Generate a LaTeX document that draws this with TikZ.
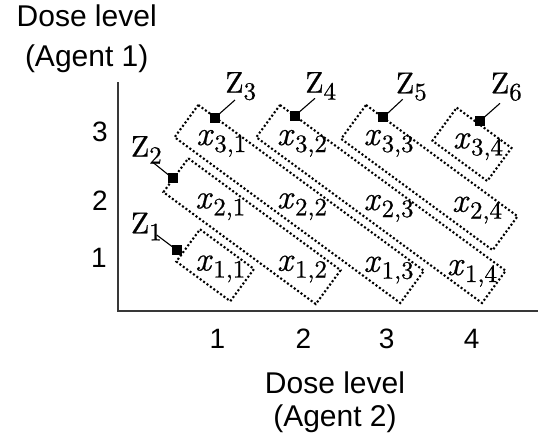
\documentclass[tikz,border=0pt]{standalone}
\usepackage{fontspec}
\newfontfamily\arial{Liberation Sans}
\newfontfamily\lmten{lmroman10-regular.otf}[ItalicFont=lmroman10-italic.otf, FakeBold=0.6]
\newcommand\zbox[4]{\draw[zb] (#1,#2) -- ++({0.806*#3},{0.592*#3}) -- ++({-0.592*#4},{0.806*#4}) -- ++({-0.806*#3},{-0.592*#3}) -- cycle;}
\newcommand\subsc[1]{\raisebox{-7pt}{\fontsize{25}{27}\selectfont #1}}
\newcommand\cellx[2]{\textit{x}\kern0.5pt\subsc{#1,#2}}
\newcommand\zlab[1]{{\fontsize{30}{34}\selectfont Z}\subsc{#1}}
\begin{document}
\begin{tikzpicture}[x=1pt,y=-1pt,
  zb/.style={line width=2.1pt, dash pattern=on 2pt off 2.2pt},
  axis/.style={line width=1.4pt, draw=black!78},
  lab/.style={font=\arial\fontsize{30}{34}\selectfont, inner sep=0pt, anchor=base},
  tick/.style={font=\arial\fontsize{28}{32}\selectfont, inner sep=0pt, anchor=base},
  xl/.style={font=\lmten\fontsize{34}{38}\selectfont, inner sep=0pt, anchor=base west},
  mk/.style={fill=black, rectangle, minimum size=10pt, inner sep=0pt},
  ln/.style={line width=1.1pt}]
\useasboundingbox (0,0) rectangle (540,445);

% axes
\coordinate (o) at (118,311);
\coordinate (ytop) at (118,82);
\coordinate (xend) at (538,311);
\draw[axis] (ytop) -- (o) -- (xend);

% axis labels
\node[lab] (ya1) at (86.7,26.7) {Dose level};
\node[lab] (ya2) at (86.7,66.7) {(Agent 1)};
\node[lab] (xa1) at (335,393.3) {Dose level};
\node[lab] (xa2) at (335,426.7) {(Agent 2)};

% ticks
\node[tick] (t3) at (100,141.7) {3};
\node[tick] (t2) at (100,210) {2};
\node[tick] (t1) at (99,267) {1};
\node[tick] (s1) at (217.5,348.3) {1};
\node[tick] (s2) at (303.3,348.3) {2};
\node[tick] (s3) at (386.7,348.3) {3};
\node[tick] (s4) at (471.7,348.3) {4};

% boxes
\zbox{200}{229.3}{67}{40}
\zbox{188.3}{158.3}{189}{42}
\zbox{198.3}{105}{280}{40}
\zbox{280}{105}{280}{40}
\zbox{366}{105}{188}{42}
\zbox{456.7}{107.7}{68}{41}

% cell labels
\node[xl] (x11) at (195,270.5) {\cellx{1}{1}};
\node[xl] (x12) at (276.7,270.7) {\cellx{1}{2}};
\node[xl] (x13) at (363.3,271.7) {\cellx{1}{3}};
\node[xl] (x14) at (446.7,275) {\cellx{1}{4}};
\node[xl] (x21) at (195,208.3) {\cellx{2}{1}};
\node[xl] (x22) at (276.7,208.3) {\cellx{2}{2}};
\node[xl] (x23) at (363.3,210) {\cellx{2}{3}};
\node[xl] (x24) at (451.7,211.7) {\cellx{2}{4}};
\node[xl] (x31) at (196,145) {\cellx{3}{1}};
\node[xl] (x32) at (276.7,145) {\cellx{3}{2}};
\node[xl] (x33) at (363.3,145) {\cellx{3}{3}};
\node[xl] (x34) at (452.7,148.3) {\cellx{3}{4}};

% Z labels
\node[xl] (z1) at (130.7,233.3) {\zlab{1}};
\node[xl] (z2) at (130.7,156.7) {\zlab{2}};
\node[xl] (z3) at (225,92.7) {\zlab{3}};
\node[xl] (z4) at (305,92.7) {\zlab{4}};
\node[xl] (z5) at (395.7,93.3) {\zlab{5}};
\node[xl] (z6) at (490.7,93.3) {\zlab{6}};

% markers
\node[mk] (m1) at (176.7,250) {};
\node[mk] (m2) at (172.7,178.3) {};
\node[mk] (m3) at (215,117.7) {};
\node[mk] (m4) at (295,115.7) {};
\node[mk] (m5) at (383.3,117.3) {};
\node[mk] (m6) at (480,121) {};

% leader lines
\coordinate (l1) at (156.7,235);
\coordinate (l2) at (153.3,162.7);
\coordinate (l3) at (235,100);
\coordinate (l4) at (315,98.3);
\coordinate (l5) at (402.7,99.3);
\coordinate (l6) at (500,103.3);
\foreach \i in {1,...,6} \draw[ln] (l\i) -- (m\i.center);
\end{tikzpicture}
\end{document}
